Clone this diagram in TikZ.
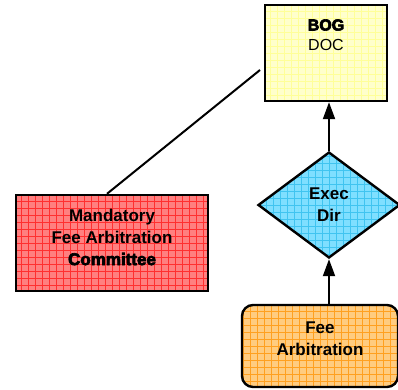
\documentclass[tikz,border=0pt]{standalone}
\usepackage{fontspec}
\setmainfont{Liberation Sans}
\newfontfamily\heavyfont[FakeBold=4]{Liberation Sans Bold}
\usetikzlibrary{shapes.geometric,arrows.meta}

\definecolor{bogfill}{HTML}{FFFFCC}
\definecolor{boggrid}{HTML}{FFFF99}
\definecolor{redfill}{HTML}{FF8080}
\definecolor{redgrid}{HTML}{FF3030}
\definecolor{execfill}{HTML}{7FDFFF}
\definecolor{execgrid}{HTML}{40C4F0}
\definecolor{feefill}{HTML}{FFCC80}
\definecolor{feegrid}{HTML}{FFA020}

\tikzset{
  gridfill/.style={path picture={
    \draw[#1, line width=0.7pt] ([shift={(-7pt,-7pt)}]path picture bounding box.south west)
      grid[step=7pt] ([shift={(7pt,7pt)}]path picture bounding box.north east);}},
  box/.style={draw=black, line width=2.4pt, inner sep=0pt},
  txt/.style={font=\fontsize{17}{22}\selectfont\bfseries, align=center},
  arr/.style={line width=2pt, -{Triangle[width=12pt,length=17pt]}}
}

\begin{document}
\begin{tikzpicture}[x=1pt,y=-1pt]
\useasboundingbox (0,0) rectangle (398,389);

\node[box, fill=bogfill, gridfill=boggrid, minimum width=122pt, minimum height=96pt] (bog) at (326,53) {};
\node[font=\fontsize{16}{20}\selectfont, align=center] (bogtxt) at (326,35) {{\heavyfont BOG}\\DOC};

\node[box, fill=redfill, gridfill=redgrid, minimum width=192pt, minimum height=96pt] (mfac) at (112,243) {};
\node[txt] (mfactxt) at (112,237) {Mandatory\\Fee Arbitration\\{\heavyfont Committee}};

\node[box, diamond, fill=execfill, gridfill=execgrid, minimum width=142pt, minimum height=106pt] (exec) at (329,205) {};
\node[txt] (exectxt) at (329,205) {Exec\\Dir};

\node[box, rounded corners=11pt, fill=feefill, gridfill=feegrid, minimum width=156pt, minimum height=82pt] (fee) at (320,346) {};
\node[txt] (feetxt) at (320,339) {Fee\\Arbitration};

\coordinate (tie) at (260,70);
\draw[line width=2pt] (mfac.north) ++(-5,0) -- (tie);
\draw[arr] (exec.north) -- (exec.north |- bog.south);
\draw[arr] (exec.south |- fee.north) -- (exec.south);
\end{tikzpicture}
\end{document}
